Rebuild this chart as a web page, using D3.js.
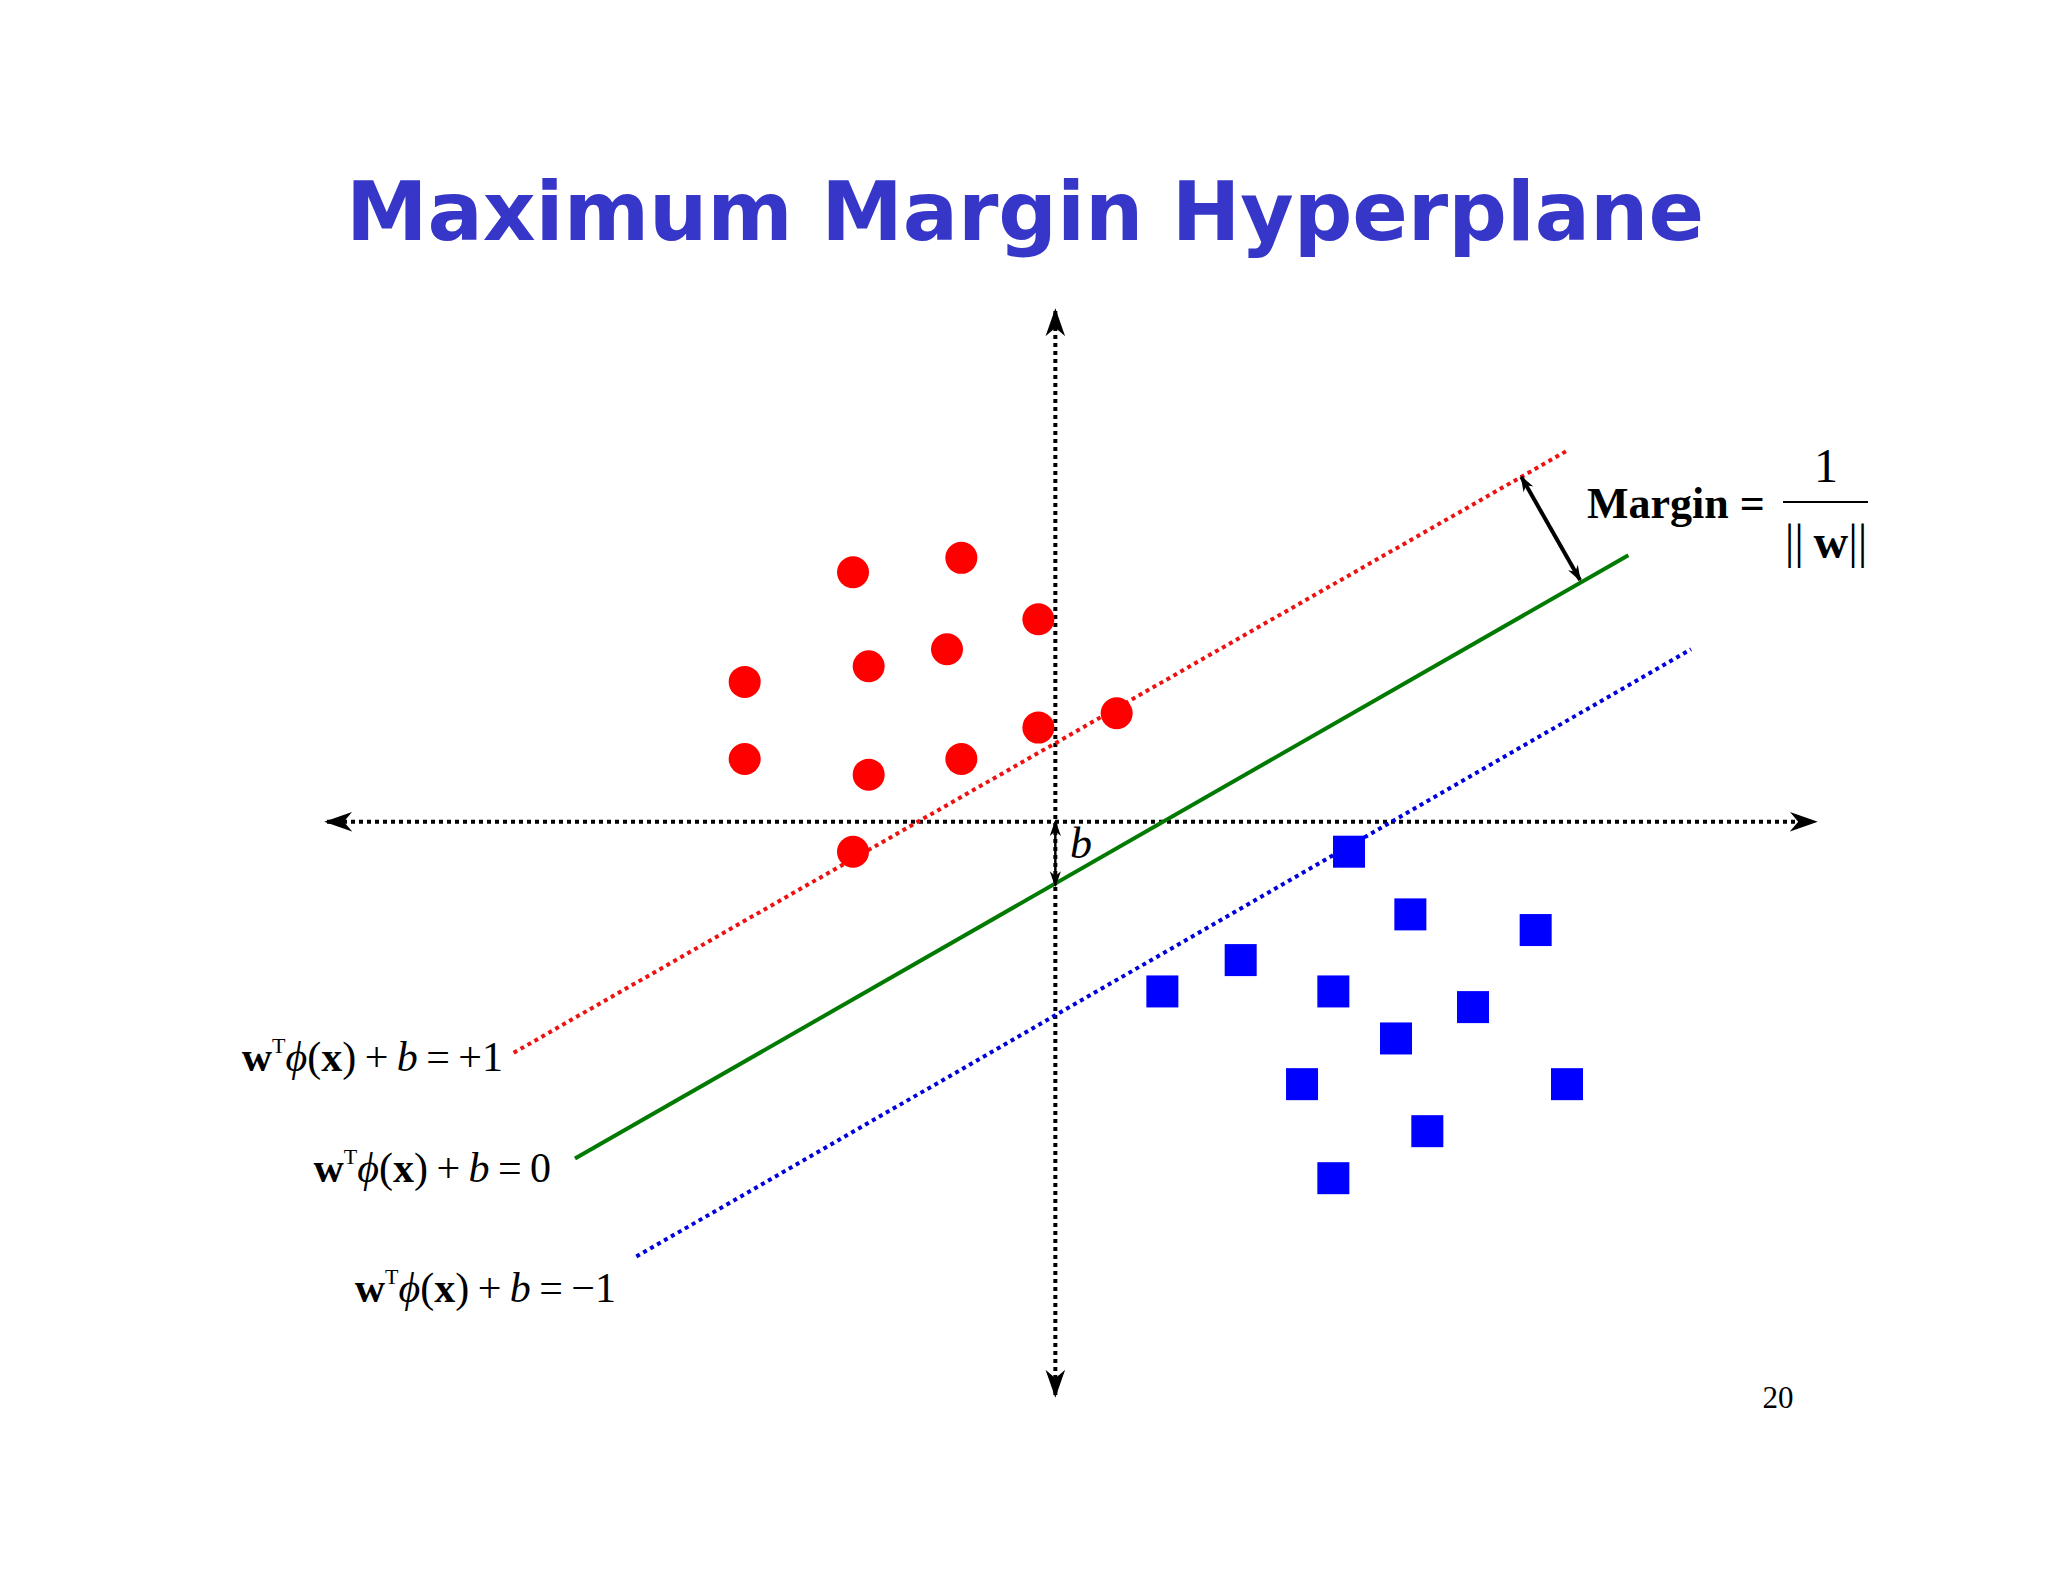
<!DOCTYPE html><html><head><meta charset="utf-8">
<script src="https://cdn.jsdelivr.net/npm/d3@7"></script>
<style>body{margin:0;background:#fff}</style></head><body>
<script>
const redX=[-15.5,-7.2,-1.3,-23.8,-14.3,-8.3,-1.3,4.7,-23.8,-14.3,-7.2,-15.5];
const redY=[19.1,20.2,15.5,10.7,11.9,13.2,7.2,8.3,4.8,3.6,4.8,-2.3];
const blueX=[22.5,27.2,36.8,14.2,8.2,21.3,32,26.1,18.9,39.2,28.5,21.3];
const blueY=[-2.3,-7.1,-8.3,-10.6,-13,-13,-14.2,-16.6,-20.1,-20.1,-23.7,-27.3];
const lineNames=["plus","zero","minus"];
const lineX1=[-41.5,-36.8,-32.1], lineY1=[-17.7,-25.8,-33.3];
const lineX2=[39.2,43.9,48.7], lineY2=[28.4,20.4,13.2];
const lineRHS=["+1","0","\u22121"];
const bValue=-4.9;
const marginFrom=[35.7,26.4], marginTo=[40.2,18.5];

const W=2048,H=1582;
const svg=d3.select("body").append("svg").attr("width",W).attr("height",H);
const defs=svg.append("defs");
function marker(id,size){defs.append("marker").attr("id",id).attr("viewBox","0 0 10 10").attr("refX",9).attr("refY",5)
 .attr("markerWidth",size).attr("markerHeight",size).attr("markerUnits","userSpaceOnUse").attr("orient","auto-start-reverse")
 .append("path").attr("d","M0,1.5L10,5L0,8.5L3,5Z").attr("fill","#000");}
marker("ax",28);marker("sm",16);

const x=d3.scaleLinear().domain([-55.8,58.2]).range([327,1815]);
const y=d3.scaleLinear().domain([-43.9,39.1]).range([1395,311]);

svg.append("text").attr("x",1025).attr("y",240).attr("text-anchor","middle")
 .attr("font-family","DejaVu Sans").attr("font-weight","bold").attr("font-size",82)
 .attr("textLength",1358).attr("fill","#3636c8").text("Maximum Margin Hyperplane");

// axes
svg.append("line").attr("x1",x(-55.8)).attr("x2",x(58.2)).attr("y1",y(0)).attr("y2",y(0))
 .attr("stroke","#000").attr("stroke-width",4).attr("stroke-dasharray","4,4")
 .attr("marker-start","url(#ax)").attr("marker-end","url(#ax)");
svg.append("line").attr("x1",x(0)).attr("x2",x(0)).attr("y1",y(-43.9)).attr("y2",y(39.1))
 .attr("stroke","#000").attr("stroke-width",4).attr("stroke-dasharray","4,4")
 .attr("marker-start","url(#ax)").attr("marker-end","url(#ax)");

const cols=["#ee1111","#007a00","#0000dd"];
lineNames.forEach((n,i)=>{
 svg.append("line").attr("x1",x(lineX1[i])).attr("y1",y(lineY1[i])).attr("x2",x(lineX2[i])).attr("y2",y(lineY2[i]))
  .attr("stroke",cols[i]).attr("stroke-width",4).attr("stroke-dasharray",i==1?null:"4,4");
});

svg.selectAll("circle.r").data(redX).join("circle").attr("cx",d=>x(d)).attr("cy",(d,i)=>y(redY[i])).attr("r",16).attr("fill","#ff0000");
svg.selectAll("rect.b").data(blueX).join("rect").attr("x",d=>x(d)-16).attr("y",(d,i)=>y(blueY[i])-16).attr("width",32).attr("height",32).attr("fill","#0000ff");

// b arrow
svg.append("line").attr("x1",x(0)).attr("x2",x(0)).attr("y1",y(0)).attr("y2",y(bValue))
 .attr("stroke","#000").attr("stroke-width",2.5).attr("marker-start","url(#sm)").attr("marker-end","url(#sm)");
svg.append("text").attr("x",1070).attr("y",858).attr("font-family","Liberation Serif").attr("font-style","italic").attr("font-size",44).text("b");
// margin arrow
svg.append("line").attr("x1",x(marginFrom[0])).attr("y1",y(marginFrom[1])).attr("x2",x(marginTo[0])).attr("y2",y(marginTo[1]))
 .attr("stroke","#000").attr("stroke-width",4).attr("marker-start","url(#sm)").attr("marker-end","url(#sm)");

const F="Liberation Serif";
svg.append("text").attr("x",1587).attr("y",518).attr("font-family",F).attr("font-weight","bold").attr("font-size",44).text("Margin =");
svg.append("line").attr("x1",1783).attr("x2",1868).attr("y1",502).attr("y2",502).attr("stroke","#000").attr("stroke-width",2);
svg.append("text").attr("x",1826).attr("y",482).attr("text-anchor","middle").attr("font-family",F).attr("font-size",48).text("1");
const t=svg.append("text").attr("x",1826).attr("y",558).attr("text-anchor","middle").attr("font-family",F).attr("font-size",48);
t.append("tspan").text("||\u2009"); t.append("tspan").attr("font-weight","bold").text("w"); t.append("tspan").text("||");

const lx=[503,551,616], ly=[1071,1182,1302];
lineRHS.forEach((r,i)=>{
 const tt=svg.append("text").attr("x",lx[i]).attr("y",ly[i]).attr("text-anchor","end").attr("font-family",F).attr("font-size",42);
 tt.append("tspan").attr("font-weight","bold").text("w");
 tt.append("tspan").attr("font-size",22).attr("dy",-18).text("T");
 tt.append("tspan").attr("dy",18).attr("font-style","italic").text("\u03d5");
 tt.append("tspan").text("(");
 tt.append("tspan").attr("font-weight","bold").text("x");
 tt.append("tspan").text(")\u2009+\u2009");
 tt.append("tspan").attr("font-style","italic").text("b");
 tt.append("tspan").text("\u2009=\u2009"+r);
});
svg.append("text").attr("x",1778).attr("y",1408).attr("text-anchor","middle").attr("font-family",F).attr("font-size",31).text("20");
</script></body></html>
